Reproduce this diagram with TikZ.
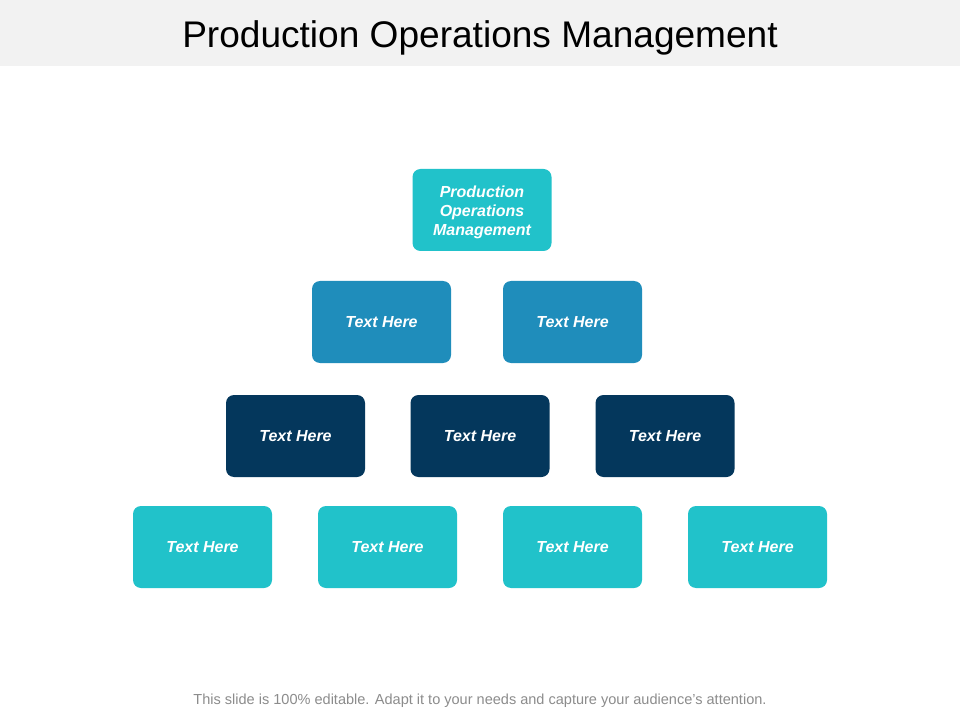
\documentclass[tikz,border=0pt]{standalone}
\usepackage{fontspec}
\setmainfont{Liberation Sans}
\definecolor{teal}{HTML}{21C2CA}
\definecolor{midblue}{HTML}{1F8DBB}
\definecolor{navy}{HTML}{04375C}
\definecolor{barbg}{HTML}{F2F2F2}
\definecolor{foot}{HTML}{8C8C8C}
\tikzset{
  box/.style={rounded corners=6pt, minimum width=104.25pt, minimum height=61.5pt, inner sep=0pt,
    text=white, align=center, font=\fontsize{12}{14.25}\selectfont\bfseries\itshape},
  tealbox/.style={box, fill=teal},
  bluebox/.style={box, fill=midblue},
  navybox/.style={box, fill=navy},
  boxtext/.style={text=white, align=center, font=\fontsize{12}{14.25}\selectfont\bfseries\itshape},
}
\begin{document}
\begin{tikzpicture}[x=0.75pt,y=-0.75pt]
\useasboundingbox (0,0) rectangle (960,720);
\fill[white] (0,0) rectangle (960,720);
\fill[barbg] (0,0) rectangle (960,66);
\node[font=\fontsize{27.8}{32}\selectfont, text=black, anchor=base] (title) at (480,48) {Production Operations Management};
\node[tealbox] (top) at (482,210) {};
\node[boxtext] (toptext) at (482,212) {Production\\Operations\\Management};
\node[bluebox] (b1) at (381.5,322) {Text Here};
\node[bluebox] (b2) at (572.5,322) {Text Here};
\node[navybox] (c1) at (295.5,436) {Text Here};
\node[navybox] (c2) at (480,436) {Text Here};
\node[navybox] (c3) at (665,436) {Text Here};
\node[tealbox] (d1) at (202.5,547) {Text Here};
\node[tealbox] (d2) at (387.5,547) {Text Here};
\node[tealbox] (d3) at (572.5,547) {Text Here};
\node[tealbox] (d4) at (757.5,547) {Text Here};
\node[font=\fontsize{10.9}{12}\selectfont, text=foot] (footer) at (480,701) {This slide is 100\% editable. Adapt it to your needs and capture your audience's attention.};
\end{tikzpicture}
\end{document}
